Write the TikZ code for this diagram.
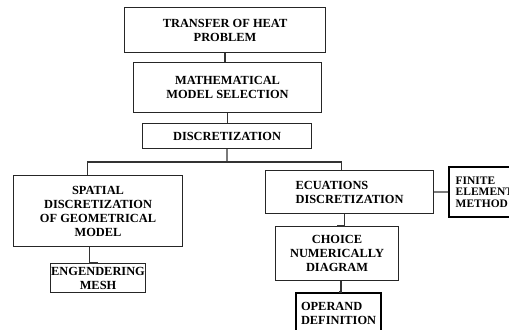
\documentclass[tikz,border=0pt]{standalone}
\usepackage{fontspec}
\setmainfont{Liberation Serif}
\usetikzlibrary{positioning}

\begin{document}
\begin{tikzpicture}[x=0.75pt, y=-0.75pt,
	box/.style={draw=black!85, line width=0.8pt, anchor=north west, align=center, font=\fontsize{9.3}{10.5}\selectfont\bfseries, inner sep=0pt},
	heavybox/.style={box, draw=black, line width=1.6pt},
	link/.style={draw=black!80, line width=1pt}]
	\useasboundingbox (0,0) rectangle (509,329);
	%boxes
	\node[box, minimum width=150.75pt, minimum height=33.75pt] (heat) at (124,7) {TRANSFER OF HEAT\\PROBLEM};
	\node[box, minimum width=141pt, minimum height=37.5pt] (model) at (133,62) {MATHEMATICAL\\MODEL SELECTION};
	\node[box, minimum width=126.75pt, minimum height=18.75pt] (discr) at (142,123) {DISCRETIZATION};
	\node[box, minimum width=126.75pt, minimum height=53.25pt] (spatial) at (13,175) {SPATIAL\\DISCRETIZATION\\OF GEOMETRICAL\\MODEL};
	\node[box, minimum width=71.25pt, minimum height=21.75pt] (mesh) at (50,263) {ENGENDERING\\MESH};
	\node[box, align=left, minimum width=126pt, minimum height=32.25pt] (ecuat) at (265,170) {ECUATIONS\\DISCRETIZATION};
	\node[heavybox, align=left, anchor=west, inner xsep=5pt, minimum height=37.5pt, font=\fontsize{8.6}{8.6}\selectfont\bfseries] (fem) at (448,192) {FINITE\\ELEMENT\\METHOD};
	\node[box, minimum width=92.25pt, minimum height=40.5pt] (choice) at (275,226) {CHOICE\\NUMERICALLY\\DIAGRAM};
	\node[heavybox, align=left, minimum width=63.75pt, minimum height=30pt] (operand) at (295,292) {OPERAND\\DEFINITION};
	%tree
	\coordinate (split) at (227,162);
	\draw[link] (heat.south) -- (heat.south |- model.north);
	\draw[link] (model.south) -- (model.south |- discr.north);
	\draw[link] (discr.south) -- (split);
	\draw[link] (split) -| ([xshift=-7.9pt]spatial.north);
	\draw[link] (split) -| ([xshift=-6pt]ecuat.north);
	\draw[link] ([xshift=-6.4pt]spatial.south) |- (mesh.north);
	\draw[link] (ecuat.east) -- (fem.west);
	\draw[link] ([xshift=-3.75pt]ecuat.south) |- (choice.north);
	\draw[link] ([xshift=3pt]choice.south) |- (operand.north);
\end{tikzpicture}
\end{document}
